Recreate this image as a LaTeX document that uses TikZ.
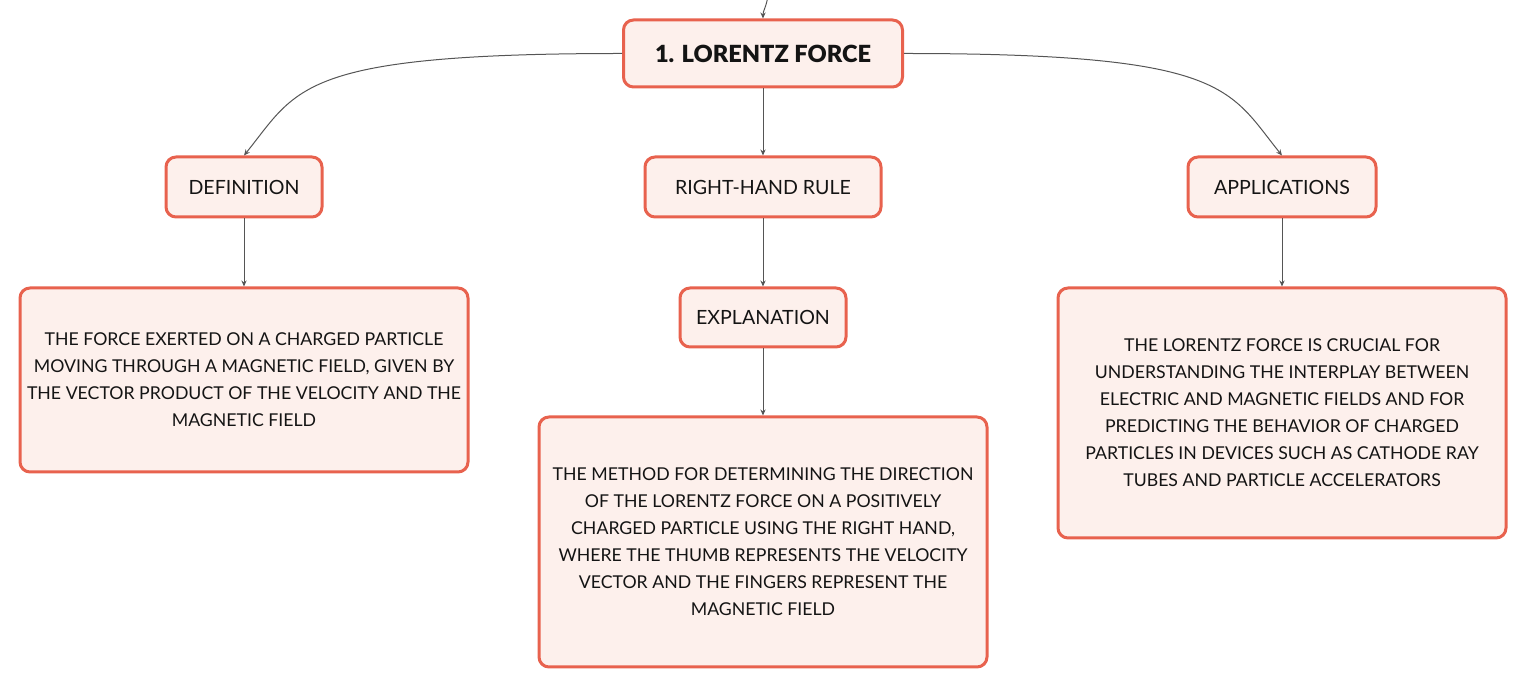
\documentclass[tikz,border=0pt]{standalone}
\usepackage{fontspec}
\setmainfont{Lato}
\newfontfamily\titlefont{Lato Black}
\usetikzlibrary{arrows.meta}
\definecolor{boxfill}{RGB}{253,240,236}
\definecolor{boxline}{RGB}{232,98,78}
\definecolor{linkgray}{RGB}{85,85,85}
\begin{document}
\begin{tikzpicture}[x=0.5pt,y=-0.5pt,->,>={Stealth[length=3pt,width=2.6pt]},
					link/.style={draw=linkgray,line width=0.5pt},
					box/.style={draw=boxline,fill=boxfill,line width=1.5pt,rounded corners=5pt,
						align=center,text=black!92,inner sep=2pt},
					titlebox/.style={box,minimum width=139.5pt,minimum height=33.5pt,
						font=\fontsize{11.8}{15}\titlefont},
					topicbox/.style={box,minimum height=30pt,font=\fontsize{9.8}{13}\selectfont},
					textbox/.style={box,minimum width=224pt,font=\fontsize{8.85}{13.5}\selectfont}]
					\useasboundingbox (0,0) rectangle (1527,688);
					
					\node[titlebox] (lorentz) at (763,53.5) {1. LORENTZ FORCE};
					\coordinate (incoming) at (768,-4);
					
					\node[topicbox,minimum width=78pt] (definition) at (244,187) {DEFINITION};
					\node[topicbox,minimum width=118pt] (righthand) at (763,187) {RIGHT-HAND RULE};
					\node[topicbox,minimum width=94pt] (applications) at (1282,187) {APPLICATIONS};
					\node[topicbox,minimum width=83pt,minimum height=29.5pt] (explanation) at (763,317.5) {EXPLANATION};
					
					\node[textbox,minimum height=92pt] (deftext) at (244,380) {THE FORCE EXERTED ON A CHARGED PARTICLE\\MOVING THROUGH A MAGNETIC FIELD, GIVEN BY\\THE VECTOR PRODUCT OF THE VELOCITY AND THE\\MAGNETIC FIELD};
					\node[textbox,minimum height=125pt] (rhrtext) at (763,542) {THE METHOD FOR DETERMINING THE DIRECTION\\OF THE LORENTZ FORCE ON A POSITIVELY\\CHARGED PARTICLE USING THE RIGHT HAND,\\WHERE THE THUMB REPRESENTS THE VELOCITY\\VECTOR AND THE FINGERS REPRESENT THE\\MAGNETIC FIELD};
					\node[textbox,minimum height=125pt] (apptext) at (1282,413) {THE LORENTZ FORCE IS CRUCIAL FOR\\UNDERSTANDING THE INTERPLAY BETWEEN\\ELECTRIC AND MAGNETIC FIELDS AND FOR\\PREDICTING THE BEHAVIOR OF CHARGED\\PARTICLES IN DEVICES SUCH AS CATHODE RAY\\TUBES AND PARTICLE ACCELERATORS};
					
					\path[link]
					(lorentz) edge (righthand)
					(definition) edge (deftext)
					(righthand) edge (explanation)
					(explanation) edge (rhrtext)
					(applications) edge (apptext);
					
					\draw[link] (incoming) .. controls +(-2,12) and +(0,-8) .. (lorentz.north);
					\draw[link] (lorentz.west) .. controls +(-324,0) and +(54,-67) .. (definition.north);
					\draw[link] (lorentz.east) .. controls +(324,0) and +(-54,-67) .. (applications.north);
\end{tikzpicture}
\end{document}
